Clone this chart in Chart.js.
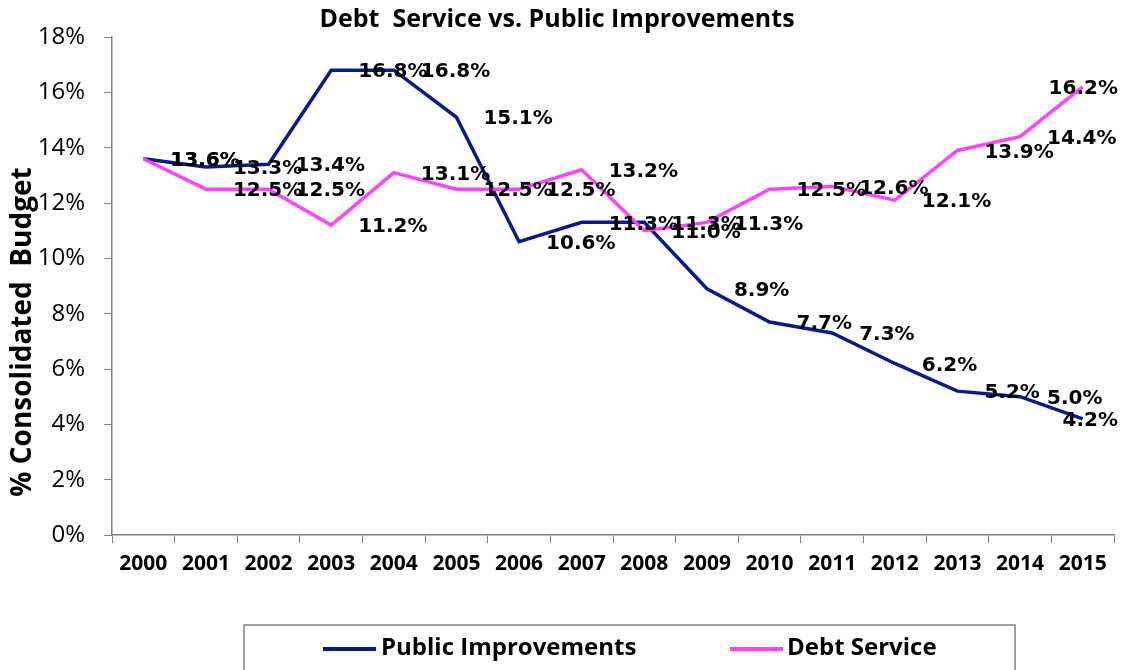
<!DOCTYPE html>
<html>
<head>
<meta charset="utf-8">
<title>Debt Service vs. Public Improvements</title>
<script src="https://cdn.jsdelivr.net/npm/chart.js@4.4.0/dist/chart.umd.min.js"></script>
<style>
  body { margin: 0; background: #fff; }
  #wrap { width: 1125px; height: 670px; }
</style>
</head>
<body>
<div id="wrap"><canvas id="debtChart" width="1125" height="670"></canvas></div>
<script>
// data
const years = ['2000', '2001', '2002', '2003', '2004', '2005', '2006', '2007',
               '2008', '2009', '2010', '2011', '2012', '2013', '2014', '2015'];
const publicImprovements = [13.6, 13.3, 13.4, 16.8, 16.8, 15.1, 10.6, 11.3,
                            11.3, 8.9, 7.7, 7.3, 6.2, 5.2, 5.0, 4.2];
const debtService = [13.6, 12.5, 12.5, 11.2, 13.1, 12.5, 12.5, 13.2,
                     11.0, 11.3, 12.5, 12.6, 12.1, 13.9, 14.4, 16.2];
const yTicks = [0, 2, 4, 6, 8, 10, 12, 14, 16, 18];

const seriesNames = ['Public Improvements', 'Debt Service'];
const seriesColors = ['#0a1a8c', '#ff44ff'];
const axisColor = '#808080';

// value labels to the right of each point
const valueLabels = {
  id: 'valueLabels',
  afterDatasetsDraw(chart) {
    const ctx = chart.ctx;
    const limit = chart.chartArea.right + 4;
    ctx.save();
    ctx.font = 'bold 20px "DejaVu Sans"';
    ctx.fillStyle = '#000';
    ctx.textAlign = 'left';
    ctx.textBaseline = 'middle';
    chart.data.datasets.forEach((ds, i) => {
      chart.getDatasetMeta(i).data.forEach((pt, j) => {
        const text = ds.data[j].toFixed(1) + '%';
        const w = ctx.measureText(text).width;
        let x = pt.x + 27;
        if (x + w > limit) x = limit - w;
        ctx.fillText(text, x, pt.y + 2);
      });
    });
    ctx.restore();
  }
};

// rotated y axis title
const yTitle = {
  id: 'yTitle',
  afterDraw(chart) {
    const ctx = chart.ctx;
    ctx.save();
    ctx.translate(23, 332);
    ctx.rotate(-Math.PI / 2);
    ctx.font = 'bold 28px "Open Sans"';
    ctx.fillStyle = '#000';
    ctx.textAlign = 'center';
    ctx.textBaseline = 'middle';
    ctx.fillText('% Consolidated  Budget', 0, 0);
    ctx.restore();
  }
};

// boxed legend under the chart
const boxLegend = {
  id: 'boxLegend',
  afterDraw(chart) {
    const ctx = chart.ctx;
    ctx.save();
    ctx.strokeStyle = axisColor;
    ctx.lineWidth = 1.5;
    ctx.strokeRect(244, 625, 771, 60);

    const items = [
      { x: 323, textX: 381 },
      { x: 730, textX: 787 }
    ];
    ctx.font = 'bold 24px "Open Sans"';
    ctx.fillStyle = '#000';
    ctx.textAlign = 'left';
    ctx.textBaseline = 'middle';
    items.forEach((item, i) => {
      ctx.strokeStyle = seriesColors[i];
      ctx.lineWidth = 4;
      ctx.beginPath();
      ctx.moveTo(item.x, 649);
      ctx.lineTo(item.x + 53, 649);
      ctx.stroke();
      ctx.fillText(seriesNames[i], item.textX, 648);
    });
    ctx.restore();
  }
};

const chartData = {
  labels: years,
  datasets: [
    {
      label: seriesNames[0],
      data: publicImprovements,
      borderColor: seriesColors[0],
      backgroundColor: seriesColors[0],
      borderWidth: 3.5,
      pointRadius: 0,
      tension: 0,
      order: 1
    },
    {
      label: seriesNames[1],
      data: debtService,
      borderColor: seriesColors[1],
      backgroundColor: seriesColors[1],
      borderWidth: 3.5,
      pointRadius: 0,
      tension: 0,
      order: 0
    }
  ]
};

const chartOptions = {
  responsive: false,
  animation: false,
  layout: {
    padding: { top: 0, right: 11, bottom: 90, left: 0 }
  },
  plugins: {
    legend: { display: false },
    tooltip: { enabled: false },
    title: {
      display: true,
      text: 'Debt  Service vs. Public Improvements',
      color: '#000',
      font: { family: 'Open Sans', size: 25, weight: 'bold' },
      padding: { top: 5, bottom: 2 }
    }
  },
  scales: {
    x: {
      offset: true,
      afterFit(scale) { scale.height = 45; },
      grid: {
        offset: true,
        drawOnChartArea: false,
        drawTicks: true,
        tickLength: 8,
        color: axisColor
      },
      border: { display: true, color: axisColor, width: 1.5 },
      ticks: {
        color: '#000',
        padding: 8,
        maxRotation: 0,
        autoSkip: false,
        font: { family: 'Open Sans', size: 21, weight: 'bold' }
      }
    },
    y: {
      min: 0,
      max: 18,
      afterFit(scale) { scale.width = 112; },
      afterBuildTicks(scale) {
        scale.ticks = yTicks.map((v) => ({ value: v }));
      },
      grid: {
        drawOnChartArea: false,
        drawTicks: true,
        tickLength: 8,
        color: axisColor
      },
      border: { display: true, color: axisColor, width: 1.5 },
      ticks: {
        color: '#000',
        padding: 19,
        font: { family: 'Open Sans', size: 24 },
        callback: (v) => v + '%'
      }
    }
  }
};

const ctx = document.getElementById('debtChart').getContext('2d');
new Chart(ctx, {
  type: 'line',
  data: chartData,
  options: chartOptions,
  plugins: [valueLabels, yTitle, boxLegend]
});
</script>
</body>
</html>
